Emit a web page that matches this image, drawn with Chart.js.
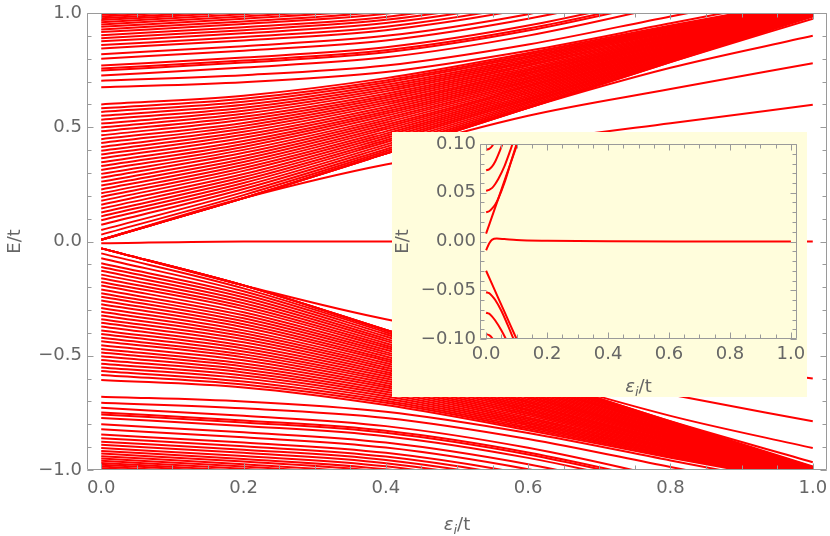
<!DOCTYPE html>
<html>
<head>
<meta charset="utf-8">
<script src="https://cdn.jsdelivr.net/npm/chart.js@4.4.1/dist/chart.umd.min.js"></script>
<style>
  html, body { margin: 0; padding: 0; background: #fff; }
  #wrap { position: relative; width: 830px; height: 536px; }
  #main { position: absolute; left: 0; top: 0; }
  #inset { position: absolute; left: 392px; top: 132px; background: rgb(255, 253, 220); }
</style>
</head>
<body>
<div id="wrap">
  <canvas id="main" width="830" height="536"></canvas>
  <canvas id="inset" width="415" height="265"></canvas>
</div>
<script>
// sample positions along eps_i/t used for every level of the main plot
const xSamples = [0, 0.2, 0.4, 0.6, 0.8, 1.0];

// upper continuum (top band), E/t at each sample
const upperBandA = [
  [0.726, 0.761, 0.806, 0.901, 1.036, 1.19],
  [0.748, 0.783, 0.828, 0.923, 1.058, 1.21],
  [0.757, 0.792, 0.837, 0.932, 1.067, 1.22],
  [0.770, 0.805, 0.850, 0.945, 1.080, 1.23],
  [0.800, 0.835, 0.880, 0.975, 1.110, 1.26],
  [0.820, 0.855, 0.900, 0.995, 1.130, 1.28],
  [0.845, 0.880, 0.925, 1.020, 1.155, 1.30],
  [0.860, 0.895, 0.940, 1.035, 1.17, 1.32],
  [0.876, 0.911, 0.956, 1.051, 1.19, 1.34],
  [0.890, 0.925, 0.970, 1.065, 1.20, 1.35],
  [0.903, 0.938, 0.983, 1.078, 1.21, 1.36],
  [0.917, 0.952, 0.997, 1.092, 1.23, 1.38],
  [0.928, 0.963, 1.008, 1.103, 1.24, 1.39],
  [0.940, 0.975, 1.020, 1.115, 1.25, 1.40],
  [0.950, 0.985, 1.030, 1.125, 1.26, 1.41],
  [0.960, 0.995, 1.040, 1.135, 1.27, 1.42],
  [0.969, 1.004, 1.049, 1.144, 1.28, 1.43],
  [0.977, 1.012, 1.057, 1.152, 1.29, 1.44],
  [0.985, 1.020, 1.065, 1.160, 1.30, 1.45],
  [0.992, 1.027, 1.072, 1.167, 1.30, 1.45],
  [0.998, 1.033, 1.078, 1.173, 1.31, 1.46]
];
// two levels in the gap above the fan
const upperSplit = [
  [0.675, 0.697, 0.742, 0.835, 0.955, 1.075],
  [0.704, 0.728, 0.770, 0.862, 0.985, 1.105]
];
// fan of levels starting between 0 and 0.6
const upperBandB = [
  [0.008, 0.190, 0.385, 0.585, 0.785, 0.985],
  [0.030, 0.203, 0.395, 0.592, 0.790, 0.987],
  [0.050, 0.216, 0.404, 0.599, 0.794, 0.989],
  [0.073, 0.230, 0.414, 0.606, 0.799, 0.992],
  [0.093, 0.243, 0.424, 0.613, 0.804, 0.994],
  [0.110, 0.256, 0.434, 0.620, 0.809, 0.996],
  [0.127, 0.269, 0.443, 0.627, 0.813, 0.998],
  [0.144, 0.282, 0.453, 0.634, 0.818, 1.000],
  [0.161, 0.295, 0.463, 0.641, 0.823, 1.003],
  [0.178, 0.309, 0.472, 0.649, 0.827, 1.005],
  [0.195, 0.322, 0.482, 0.656, 0.832, 1.007],
  [0.211, 0.335, 0.492, 0.663, 0.837, 1.009],
  [0.228, 0.348, 0.501, 0.670, 0.841, 1.011],
  [0.245, 0.361, 0.511, 0.677, 0.846, 1.014],
  [0.262, 0.374, 0.521, 0.684, 0.851, 1.016],
  [0.279, 0.388, 0.531, 0.691, 0.856, 1.018],
  [0.296, 0.401, 0.540, 0.698, 0.860, 1.020],
  [0.313, 0.414, 0.550, 0.705, 0.865, 1.023],
  [0.330, 0.427, 0.560, 0.712, 0.870, 1.025],
  [0.347, 0.440, 0.569, 0.719, 0.874, 1.027],
  [0.364, 0.454, 0.579, 0.726, 0.879, 1.029],
  [0.381, 0.467, 0.589, 0.733, 0.884, 1.031],
  [0.397, 0.480, 0.599, 0.740, 0.888, 1.034],
  [0.414, 0.493, 0.608, 0.747, 0.893, 1.036],
  [0.431, 0.506, 0.618, 0.754, 0.898, 1.038],
  [0.448, 0.519, 0.628, 0.761, 0.903, 1.040],
  [0.465, 0.533, 0.637, 0.769, 0.907, 1.042],
  [0.482, 0.546, 0.647, 0.776, 0.912, 1.045],
  [0.499, 0.559, 0.657, 0.783, 0.917, 1.047],
  [0.516, 0.572, 0.666, 0.790, 0.921, 1.049],
  [0.533, 0.585, 0.676, 0.797, 0.926, 1.051],
  [0.550, 0.598, 0.686, 0.804, 0.931, 1.053],
  [0.567, 0.612, 0.696, 0.811, 0.935, 1.056],
  [0.583, 0.625, 0.705, 0.818, 0.940, 1.058],
  [0.600, 0.638, 0.715, 0.825, 0.945, 1.060]
];
// levels that leave the diagonal edge and end at 0.60, 0.78, 0.90, 0.975
const upperPeel = [
  [0.008, 0.190, 0.337, 0.435, 0.518, 0.598],
  [0.008, 0.190, 0.385, 0.550, 0.667, 0.780],
  [0.008, 0.190, 0.385, 0.585, 0.760, 0.900],
  [0.008, 0.190, 0.385, 0.585, 0.785, 0.975]
];
const zeroMode = [-0.008, 0.0004, 0.0001, 0, 0, 0];

const lowerBandA = [
  [-0.728, -0.763, -0.808, -0.903, -1.038, -1.19],
  [-0.748, -0.783, -0.828, -0.923, -1.058, -1.21],
  [-0.757, -0.792, -0.837, -0.932, -1.067, -1.22],
  [-0.772, -0.807, -0.852, -0.947, -1.082, -1.23],
  [-0.800, -0.835, -0.880, -0.975, -1.110, -1.26],
  [-0.822, -0.857, -0.902, -0.997, -1.132, -1.28],
  [-0.845, -0.880, -0.925, -1.020, -1.155, -1.30],
  [-0.861, -0.896, -0.941, -1.036, -1.17, -1.32],
  [-0.876, -0.911, -0.956, -1.051, -1.19, -1.34],
  [-0.890, -0.925, -0.970, -1.065, -1.20, -1.35],
  [-0.904, -0.939, -0.984, -1.079, -1.21, -1.36],
  [-0.917, -0.952, -0.997, -1.092, -1.23, -1.38],
  [-0.928, -0.963, -1.008, -1.103, -1.24, -1.39],
  [-0.940, -0.975, -1.020, -1.115, -1.25, -1.40],
  [-0.950, -0.985, -1.030, -1.125, -1.26, -1.41],
  [-0.960, -0.995, -1.040, -1.135, -1.27, -1.42],
  [-0.969, -1.004, -1.049, -1.144, -1.28, -1.43],
  [-0.977, -1.012, -1.057, -1.152, -1.29, -1.44],
  [-0.985, -1.020, -1.065, -1.160, -1.30, -1.45],
  [-0.992, -1.027, -1.072, -1.167, -1.30, -1.45],
  [-0.998, -1.033, -1.078, -1.173, -1.31, -1.46]
];
const lowerSplit = [
  [-0.679, -0.700, -0.745, -0.838, -0.958, -1.078],
  [-0.706, -0.730, -0.772, -0.864, -0.987, -1.107]
];
const lowerBandB = [
  [-0.030, -0.192, -0.387, -0.587, -0.787, -0.985],
  [-0.052, -0.205, -0.397, -0.594, -0.792, -0.987],
  [-0.073, -0.218, -0.406, -0.601, -0.796, -0.989],
  [-0.095, -0.231, -0.416, -0.608, -0.801, -0.992],
  [-0.112, -0.244, -0.426, -0.615, -0.806, -0.994],
  [-0.128, -0.257, -0.435, -0.622, -0.810, -0.996],
  [-0.145, -0.270, -0.445, -0.629, -0.815, -0.998],
  [-0.161, -0.283, -0.455, -0.636, -0.820, -1.000],
  [-0.177, -0.296, -0.464, -0.643, -0.824, -1.003],
  [-0.193, -0.310, -0.474, -0.650, -0.829, -1.005],
  [-0.210, -0.323, -0.484, -0.657, -0.834, -1.007],
  [-0.226, -0.336, -0.493, -0.664, -0.838, -1.009],
  [-0.242, -0.349, -0.503, -0.671, -0.843, -1.011],
  [-0.258, -0.362, -0.513, -0.678, -0.848, -1.014],
  [-0.275, -0.375, -0.522, -0.685, -0.852, -1.016],
  [-0.291, -0.389, -0.532, -0.692, -0.857, -1.018],
  [-0.307, -0.402, -0.542, -0.699, -0.862, -1.020],
  [-0.324, -0.415, -0.551, -0.706, -0.866, -1.023],
  [-0.340, -0.428, -0.561, -0.713, -0.871, -1.025],
  [-0.356, -0.441, -0.571, -0.720, -0.876, -1.027],
  [-0.372, -0.455, -0.580, -0.727, -0.880, -1.029],
  [-0.389, -0.468, -0.590, -0.734, -0.885, -1.031],
  [-0.405, -0.481, -0.600, -0.741, -0.890, -1.034],
  [-0.421, -0.494, -0.609, -0.748, -0.894, -1.036],
  [-0.437, -0.507, -0.619, -0.755, -0.899, -1.038],
  [-0.454, -0.520, -0.629, -0.762, -0.904, -1.040],
  [-0.470, -0.534, -0.638, -0.770, -0.908, -1.042],
  [-0.486, -0.547, -0.648, -0.777, -0.913, -1.045],
  [-0.502, -0.560, -0.658, -0.784, -0.918, -1.047],
  [-0.519, -0.573, -0.667, -0.791, -0.922, -1.049],
  [-0.535, -0.586, -0.677, -0.798, -0.927, -1.051],
  [-0.551, -0.599, -0.687, -0.805, -0.932, -1.053],
  [-0.567, -0.613, -0.697, -0.812, -0.936, -1.056],
  [-0.584, -0.626, -0.706, -0.819, -0.941, -1.058],
  [-0.606, -0.639, -0.716, -0.826, -0.946, -1.060]
];
const lowerPeel = [
  [-0.030, -0.192, -0.340, -0.437, -0.520, -0.600],
  [-0.030, -0.192, -0.387, -0.552, -0.670, -0.787],
  [-0.030, -0.192, -0.387, -0.587, -0.763, -0.904],
  [-0.030, -0.192, -0.387, -0.587, -0.787, -0.966]
];

// inset: levels near E = 0 for small eps_i/t
const insetCurves = [
  { x: [0, 0.01, 0.02, 0.035, 0.06, 0.1, 0.2, 0.4, 0.7, 1.0], e: [-0.009, -0.002, 0.002, 0.003, 0.0025, 0.0015, 0.0007, 0.0002, 0.0001, 0] },
  { x: [0, 0.02, 0.05, 0.08, 0.11], e: [0.008, 0.026, 0.053, 0.080, 0.107] },
  { x: [0, 0.01, 0.02, 0.03, 0.04, 0.06, 0.08, 0.1], e: [0.030, 0.031, 0.034, 0.038, 0.044, 0.060, 0.080, 0.100] },
  { x: [0, 0.01, 0.02, 0.03, 0.04, 0.06, 0.08, 0.09], e: [0.052, 0.053, 0.055, 0.059, 0.064, 0.077, 0.094, 0.103] },
  { x: [0, 0.01, 0.02, 0.03, 0.04, 0.05, 0.06], e: [0.073, 0.074, 0.077, 0.082, 0.089, 0.097, 0.106] },
  { x: [0, 0.01, 0.02, 0.03], e: [0.094, 0.095, 0.098, 0.104] },
  { x: [0, 0.02, 0.04, 0.06, 0.08, 0.1], e: [-0.030, -0.044, -0.058, -0.072, -0.086, -0.100] },
  { x: [0, 0.01, 0.02, 0.03, 0.05, 0.07, 0.09], e: [-0.052, -0.053, -0.056, -0.060, -0.071, -0.085, -0.100] },
  { x: [0, 0.01, 0.02, 0.03, 0.05, 0.07], e: [-0.073, -0.074, -0.077, -0.081, -0.091, -0.103] },
  { x: [0, 0.01, 0.02, 0.03], e: [-0.095, -0.096, -0.099, -0.104] }
];

const xTicks = [0, 0.2, 0.4, 0.6, 0.8, 1.0];
const xTickLabels = ['0.0', '0.2', '0.4', '0.6', '0.8', '1.0'];
const yTicks = [-1, -0.5, 0, 0.5, 1];
const yTickLabels = ['\u22121.0', '\u22120.5', '0.0', '0.5', '1.0'];
const insetYTicks = [-0.1, -0.05, 0, 0.05, 0.1];
const insetYTickLabels = ['\u22120.10', '\u22120.05', '0.00', '0.05', '0.10'];

const FAMILY = '"DejaVu Sans"';
const GREY_TEXT = '#666666';
const GREY_LINE = '#9a9a9a';

Chart.defaults.font.family = FAMILY;
Chart.defaults.font.size = 18;
Chart.defaults.color = GREY_TEXT;

function curve(xs, ys) {
  return {
    data: xs.map((x, i) => ({ x: x, y: ys[i] })),
    showLine: true,
    borderColor: '#ff0000',
    borderWidth: 2,
    pointRadius: 0,
    cubicInterpolationMode: 'monotone',
    clip: 0,
    fill: false
  };
}

// Mathematica style frame: box, inward ticks on all sides, axis titles
const framePlugin = {
  id: 'frame',
  afterDatasetsDraw(chart, args, o) {
    const { ctx, chartArea: a, scales } = chart;
    const sx = scales.x, sy = scales.y;
    const L = Math.round(a.left) + 0.5, R = Math.round(a.right) - 0.5;
    const T = Math.round(a.top) + 0.5, B = Math.round(a.bottom) - 0.5;
    ctx.save();
    ctx.strokeStyle = GREY_LINE;
    ctx.lineWidth = 1;
    ctx.beginPath();
    ctx.rect(L, T, R - L, B - T);
    const tickX = (v, len) => {
      const p = Math.round(sx.getPixelForValue(v)) + 0.5;
      ctx.moveTo(p, B); ctx.lineTo(p, B - len);
      ctx.moveTo(p, T); ctx.lineTo(p, T + len);
    };
    const tickY = (v, len) => {
      const p = Math.round(sy.getPixelForValue(v)) + 0.5;
      ctx.moveTo(L, p); ctx.lineTo(L + len, p);
      ctx.moveTo(R, p); ctx.lineTo(R - len, p);
    };
    for (let i = 0; i <= o.xMinorCount; i++) tickX(o.xFrom + i * o.xMinorStep, o.minor);
    for (let i = 0; i <= o.yMinorCount; i++) tickY(o.yFrom + i * o.yMinorStep, o.minor);
    o.xMajor.forEach(v => tickX(v, o.major));
    o.yMajor.forEach(v => tickY(v, o.major));
    ctx.stroke();

    ctx.fillStyle = GREY_TEXT;
    // vertical title
    ctx.save();
    ctx.translate(o.yTitleX, (a.top + a.bottom) / 2);
    ctx.rotate(-Math.PI / 2);
    ctx.font = '18px ' + FAMILY;
    ctx.textAlign = 'center';
    ctx.textBaseline = 'alphabetic';
    ctx.fillText('E/t', 0, 0);
    ctx.restore();

    // horizontal title with italic epsilon and subscript i
    const parts = [
      { t: '\u03B5', f: 'italic 18px ' + FAMILY, dy: 0 },
      { t: 'i', f: 'italic 13px ' + FAMILY, dy: 4 },
      { t: '/t', f: '18px ' + FAMILY, dy: 0 }
    ];
    let w = 0;
    parts.forEach(p => { ctx.font = p.f; p.w = ctx.measureText(p.t).width; w += p.w; });
    let cx = (a.left + a.right) / 2 - w / 2;
    ctx.textAlign = 'left';
    ctx.textBaseline = 'alphabetic';
    parts.forEach(p => { ctx.font = p.f; ctx.fillText(p.t, cx, o.xTitleBase + p.dy); cx += p.w; });
    ctx.restore();
  }
};

function axisX(height, pad) {
  return {
    type: 'linear', min: -0.02, max: 1.02,
    grid: { display: false, drawTicks: false },
    border: { display: false },
    afterBuildTicks: s => { s.ticks = xTicks.map(v => ({ value: v })); },
    afterFit: s => { s.height = height; s.paddingLeft = 0; s.paddingRight = 0; },
    ticks: { padding: pad, maxRotation: 0, autoSkip: false, callback: (v, i) => xTickLabels[i] }
  };
}
function axisY(min, max, ticks, labels, width, pad) {
  return {
    type: 'linear', min: min, max: max,
    grid: { display: false, drawTicks: false },
    border: { display: false },
    afterBuildTicks: s => { s.ticks = ticks.map(v => ({ value: v })); },
    afterFit: s => { s.width = width; s.paddingTop = 0; s.paddingBottom = 0; },
    ticks: { padding: pad, autoSkip: false, callback: (v, i) => labels[i] }
  };
}

const mainRows = [].concat(upperBandA, upperSplit, upperBandB, upperPeel, [zeroMode],
  lowerBandA, lowerSplit, lowerBandB, lowerPeel);

new Chart(document.getElementById('main').getContext('2d'), {
  type: 'scatter',
  data: { datasets: mainRows.map(r => curve(xSamples, r)) },
  options: {
    responsive: false,
    animation: false,
    layout: { padding: { top: 13, right: 3, left: 0, bottom: 0 } },
    plugins: {
      legend: { display: false },
      tooltip: { enabled: false },
      frame: {
        xMajor: xTicks, yMajor: yTicks,
        xFrom: 0, xMinorStep: 0.05, xMinorCount: 20,
        yFrom: -1, yMinorStep: 0.1, yMinorCount: 20,
        major: 6, minor: 4,
        yTitleX: 20, xTitleBase: 530
      }
    },
    scales: {
      x: axisX(66, 8),
      y: axisY(-1, 1, yTicks, yTickLabels, 87, 5)
    }
  },
  plugins: [framePlugin]
});

new Chart(document.getElementById('inset').getContext('2d'), {
  type: 'scatter',
  data: { datasets: insetCurves.map(c => curve(c.x, c.e)) },
  options: {
    responsive: false,
    animation: false,
    layout: { padding: { top: 12, right: 10, left: 0, bottom: 0 } },
    plugins: {
      legend: { display: false },
      tooltip: { enabled: false },
      frame: {
        xMajor: xTicks, yMajor: insetYTicks,
        xFrom: 0, xMinorStep: 0.05, xMinorCount: 20,
        yFrom: -0.1, yMinorStep: 0.01, yMinorCount: 20,
        major: 6, minor: 4,
        yTitleX: 16, xTitleBase: 260
      }
    },
    scales: {
      x: axisX(58, 5),
      y: axisY(-0.1, 0.1, insetYTicks, insetYTickLabels, 88, 4)
    }
  },
  plugins: [framePlugin]
});
</script>
</body>
</html>
